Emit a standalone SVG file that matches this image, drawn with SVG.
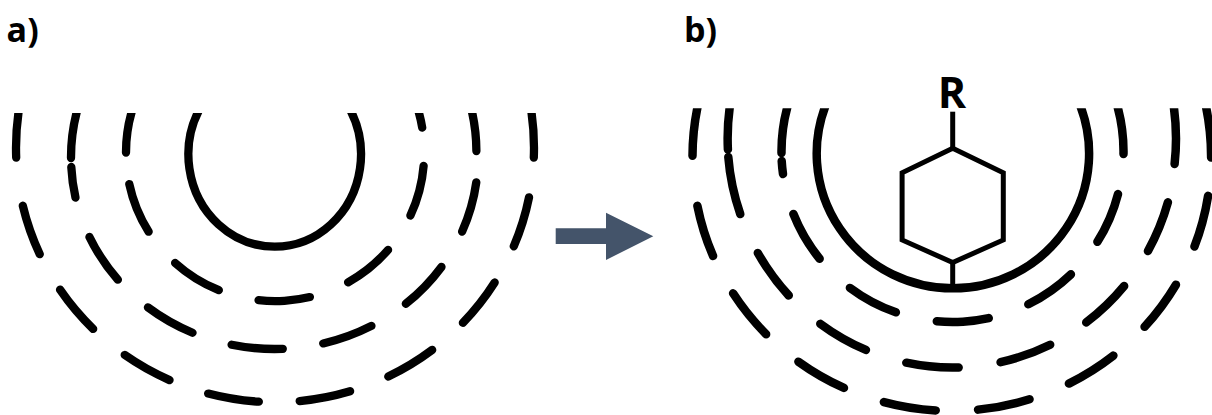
<svg xmlns="http://www.w3.org/2000/svg" width="1212" height="415" viewBox="0 0 1212 415">
  <style>
    .label { font-family: "Open Sans", "Liberation Sans", sans-serif; font-weight: bold; fill: #000; }
    .ring { fill: none; stroke: #000; stroke-linecap: round; }
    .wa { stroke-width: 8.3; }
    .wb { stroke-width: 8.5; }
    .dash-a { stroke-dasharray: 51.5 41; stroke-dashoffset: 88.35; }
    .dash-b { stroke-dasharray: 52.5 42.3; stroke-dashoffset: 90.55; }
    .bond { fill: none; stroke: #000; stroke-width: 5; stroke-linejoin: miter; }
  </style>
  <defs>
    <clipPath id="clip-a"><rect x="0" y="113" width="560" height="302"/></clipPath>
    <clipPath id="clip-b"><rect x="660" y="108.3" width="552" height="307"/></clipPath>
  </defs>

  <rect width="1212" height="415" fill="#fff"/>

  <g id="label-a"><text class="label" x="6.6" y="41.7" font-size="34">a)</text></g>
  <g id="label-b"><text class="label" x="684" y="41.7" font-size="34">b)</text></g>

  <!-- panel a: concentric shells, upper part cut off -->
  <g id="shells-a" clip-path="url(#clip-a)">
    <g id="a-core">
      <path class="ring wa" d="M201.3 106 A86.3 92.2 0 1 0 348.1 106"/>
    </g>
    <g id="a-shell-1">
      <path class="ring wa" d="M133.5 106 A149 147.4 0 0 0 126 152.6"/>
      <path class="ring wa dash-a" pathLength="429.8" d="M128.5 180 A149 147.4 0 0 0 423.9 161.7"/>
      <path class="ring wa" d="M422.2 127.6 A149 147.4 0 0 0 416.9 106"/>
    </g>
    <g id="a-shell-2">
      <path class="ring wa" d="M78.4 106 A203.5 191.7 0 0 0 71 158"/>
      <path class="ring wa" d="M71.3 167 A203.5 191.7 0 0 0 75.5 197.6"/>
      <path class="ring wa dash-a" pathLength="522.3" d="M87.7 233.3 A203.5 191.7 0 0 0 476.8 178.3"/>
      <path class="ring wa" d="M476.4 151 A203.5 191.7 0 0 0 470.6 106"/>
    </g>
    <g id="a-shell-3">
      <path class="ring wa" d="M19.5 106 A259 254.5 0 0 0 16.2 157.6"/>
      <path class="ring wa dash-a" pathLength="707.3" d="M21.9 201.7 A259 254.5 0 0 0 529.8 193.3"/>
      <path class="ring wa" d="M533.8 157.6 A259 254.5 0 0 0 530.5 106"/>
    </g>
  </g>

  <!-- transition arrow -->
  <g id="connectors">
    <path id="arrow" fill="#44546A" d="M555.7 228.3 H606 V212.7 L653.3 236.2 L606 260 V244 H555.7 Z"/>
  </g>

  <!-- panel b: same shells around a substituted ring -->
  <g id="shells-b" clip-path="url(#clip-b)">
    <g id="b-core">
      <path class="ring wb" d="M827 102 A136.2 134.9 0 1 0 1078.8 102"/>
    </g>
    <g id="b-shell-1">
      <path class="ring wb" d="M788.8 102 A171 170.7 0 0 0 781.5 153"/>
      <path class="ring wb" d="M781.7 161 A171 170.7 0 0 0 783 174"/>
      <path class="ring wb dash-b" pathLength="440.2" d="M791.9 210 A171 170.7 0 0 0 1119 190"/>
      <path class="ring wb" d="M1123.5 154 A171 170.7 0 0 0 1116.2 102"/>
    </g>
    <g id="b-shell-2">
      <path class="ring wb" d="M730.5 102 A224.2 227.9 0 0 0 727.9 149.5"/>
      <path class="ring wb" d="M728.3 157 A224.2 227.9 0 0 0 740.3 214.1"/>
      <path class="ring wb dash-b" pathLength="535" d="M755.8 249.3 A224.2 227.9 0 0 0 1169 198.3"/>
      <path class="ring wb" d="M1174.6 164 A224.2 227.9 0 0 0 1173.1 102"/>
    </g>
    <g id="b-shell-3">
      <path class="ring wb" d="M698.6 102 A259.3 254 0 0 0 692.5 155.8"/>
      <path class="ring wb dash-b" pathLength="724.6" d="M696.6 201.7 A259.3 254 0 0 0 1208.7 191.7"/>
      <path class="ring wb" d="M1211.1 157.5 A259.3 254 0 0 0 1205 102"/>
    </g>
  </g>

  <!-- cyclohexane with R substituent, anchored on the core -->
  <g id="cyclohexane">
    <polygon class="bond" points="952.7,148.3 1003.3,172.7 1003.3,240 952.7,262.5 902.1,240 902.1,172.7"/>
    <line class="bond" x1="952.7" y1="111.7" x2="952.7" y2="148.3"/>
    <line class="bond" x1="952.7" y1="262.5" x2="952.7" y2="288"/>
  </g>
  <g id="label-R"><text class="label" x="952" y="107.7" font-size="43" text-anchor="middle">R</text></g>
</svg>
